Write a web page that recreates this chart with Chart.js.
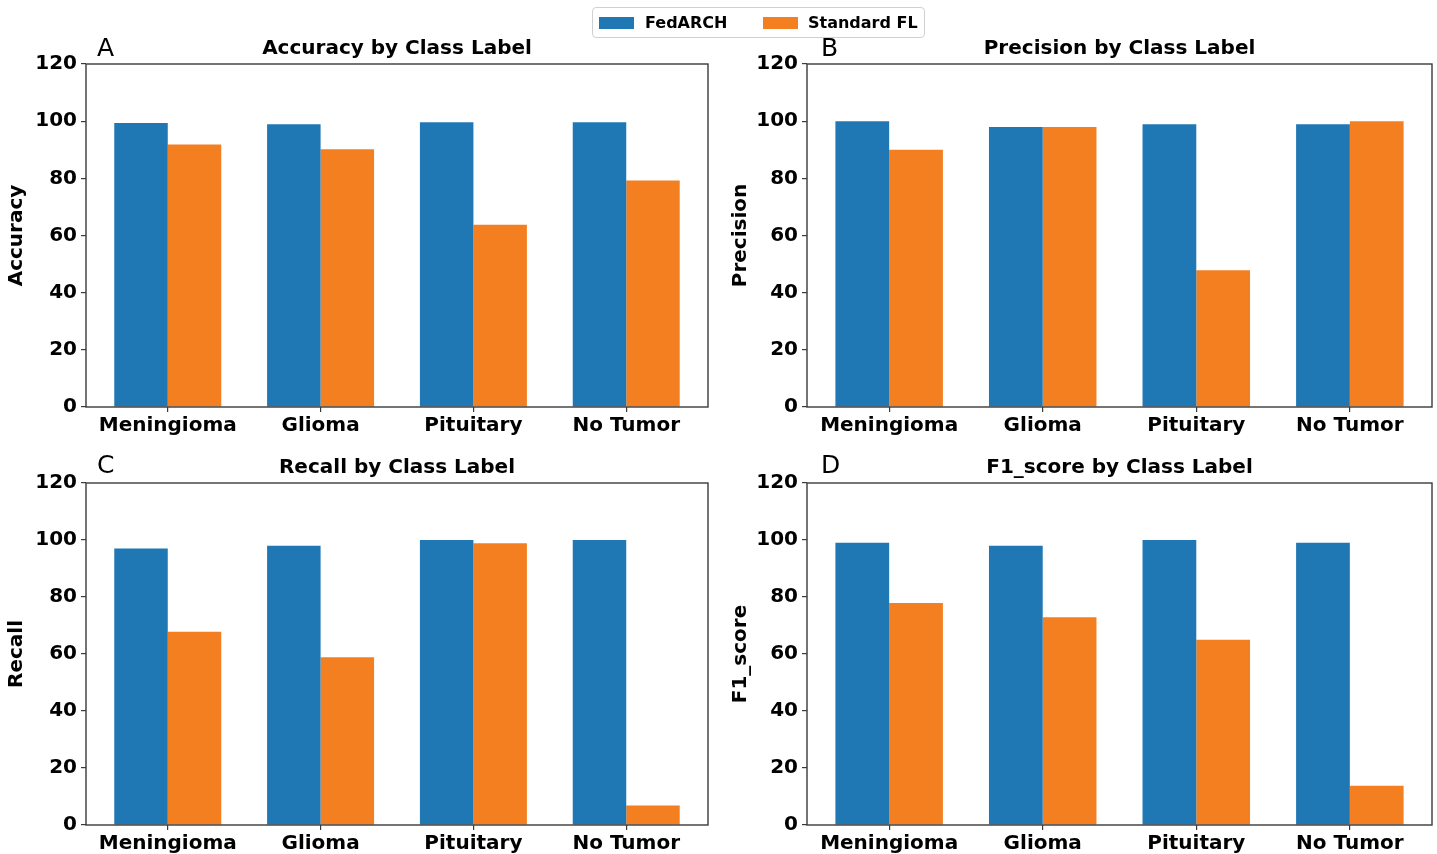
<!DOCTYPE html>
<html>
<head>
<meta charset="utf-8">
<script src="https://cdn.jsdelivr.net/npm/chart.js@4.4.1/dist/chart.umd.min.js"></script>
<style>
  html, body { margin: 0; padding: 0; background: #fff; }
  body { width: 1437px; height: 854px; position: relative; overflow: hidden; font-family: 'DejaVu Sans', sans-serif; }
  .panel { position: absolute; }
  .tag { position: absolute; font-size: 25px; line-height: 24px; color: #000; }
  #legend { position: absolute; left: 592px; top: 7px; width: 333px; height: 31px; box-sizing: border-box;
            border: 1px solid #d0d0d0; border-radius: 4px; background: #fff; }
  #legend .sw { position: absolute; top: 9px; width: 35px; height: 12px; }
  #legend .lt { position: absolute; top: 0; line-height: 29px; font-size: 16px; font-weight: bold; color: #000; white-space: nowrap; }
</style>
</head>
<body>

<div class="panel" style="left:0;top:0"><canvas id="chart-acc" width="718" height="440"></canvas></div>
<div class="panel" style="left:718px;top:0"><canvas id="chart-prec" width="719" height="440"></canvas></div>
<div class="panel" style="left:0;top:419px"><canvas id="chart-rec" width="718" height="435"></canvas></div>
<div class="panel" style="left:718px;top:419px"><canvas id="chart-f1" width="719" height="435"></canvas></div>

<div class="tag" style="left:97px;top:36px">A</div>
<div class="tag" style="left:821px;top:36px">B</div>
<div class="tag" style="left:97px;top:453px">C</div>
<div class="tag" style="left:821px;top:453px">D</div>

<div id="legend">
  <span class="sw" style="left:6px;background:#1f77b4"></span><span class="lt" style="left:52px">FedARCH</span>
  <span class="sw" style="left:170px;background:#f47f20"></span><span class="lt" style="left:215px">Standard FL</span>
</div>

<script>
// class labels and per-metric scores (%)
const classes = ['Meningioma', 'Glioma', 'Pituitary', 'No Tumor'];
const seriesNames = ['FedARCH', 'Standard FL'];
const yTicks = [0, 20, 40, 60, 80, 100, 120];

const accFedarch = [99.4, 98.9, 99.6, 99.6];
const accStandard = [91.8, 90.2, 63.8, 79.2];

const precFedarch = [100, 98.0, 98.9, 98.9];
const precStandard = [90.0, 98.0, 47.8, 100];

const recFedarch = [97.0, 98.0, 100, 100];
const recStandard = [67.8, 58.9, 98.9, 6.8];

const f1Fedarch = [99.0, 98.0, 100, 99.0];
const f1Standard = [77.9, 72.9, 65.0, 13.8];

const COLORS = { fedarch: '#1f77b4', standard: '#f47f20', axis: '#3a3a3a', text: '#000' };
const FONT = "'DejaVu Sans', sans-serif";

// bars are 0.35 wide on each side of the class index, plus a 5% margin
const BAR_HALF = 0.35;
const X_MARGIN = (classes.length - 1 + 2 * BAR_HALF) * 0.05;

Chart.defaults.font.family = FONT;
Chart.defaults.color = COLORS.text;

// box around the plot area
const framePlugin = {
  id: 'frame',
  afterDraw(chart) {
    const { ctx, chartArea: a } = chart;
    ctx.save();
    ctx.strokeStyle = COLORS.axis;
    ctx.lineWidth = 1.4;
    ctx.strokeRect(a.left, a.top, a.right - a.left, a.bottom - a.top);
    ctx.restore();
  },
};

function renderPanel(id, title, yLabel, fed, std, cfg) {
  const ctx = document.getElementById(id).getContext('2d');
  const bold20 = { family: FONT, size: 20, weight: 'bold' };
  const toPoints = arr => arr.map((v, i) => ({ x: i, y: v }));
  return new Chart(ctx, {
    type: 'bar',
    data: {
      datasets: [
        { label: seriesNames[0], data: toPoints(fed), backgroundColor: COLORS.fedarch, borderWidth: 0,
          categoryPercentage: 2 * BAR_HALF, barPercentage: 1.0 },
        { label: seriesNames[1], data: toPoints(std), backgroundColor: COLORS.standard, borderWidth: 0,
          categoryPercentage: 2 * BAR_HALF, barPercentage: 1.0 },
      ],
    },
    options: {
      responsive: false,
      animation: false,
      layout: { padding: { left: 0, right: cfg.padRight, top: 0, bottom: 0 } },
      plugins: {
        legend: { display: false },
        tooltip: { enabled: false },
        title: {
          display: true, text: title, fullSize: false, color: COLORS.text,
          font: bold20, padding: { top: 37, bottom: 3 },
        },
      },
      scales: {
        x: {
          type: 'linear',
          min: -BAR_HALF - X_MARGIN,
          max: classes.length - 1 + BAR_HALF + X_MARGIN,
          offset: false,
          afterBuildTicks: s => { s.ticks = classes.map((c, i) => ({ value: i })); },
          grid: { drawOnChartArea: false, offset: false, tickLength: 5, color: COLORS.axis, lineWidth: 1.2 },
          border: { display: false },
          ticks: { font: bold20, color: COLORS.text, padding: 2, maxRotation: 0, autoSkip: false,
                   callback: v => classes[v] },
          afterFit: s => { s.height = cfg.xHeight; },
        },
        y: {
          min: yTicks[0], max: yTicks[yTicks.length - 1],
          afterBuildTicks: s => { s.ticks = yTicks.map(v => ({ value: v })); },
          grid: { drawOnChartArea: false, tickLength: 5, color: COLORS.axis, lineWidth: 1.2 },
          border: { display: false },
          ticks: { font: bold20, color: COLORS.text, padding: 4 },
          title: { display: true, text: yLabel, font: bold20, color: COLORS.text, padding: { top: cfg.titlePad } },
          afterFit: s => { s.width = cfg.yWidth; },
        },
      },
    },
    plugins: [framePlugin],
  });
}

const left  = { yWidth: 86, padRight: 10, titlePad: 5 };
const right = { yWidth: 89, padRight: 5, titlePad: 11 };

renderPanel('chart-acc',  'Accuracy by Class Label',  'Accuracy',  accFedarch,  accStandard,  { ...left,  xHeight: 33 });
renderPanel('chart-prec', 'Precision by Class Label', 'Precision', precFedarch, precStandard, { ...right, xHeight: 33 });
renderPanel('chart-rec',  'Recall by Class Label',    'Recall',    recFedarch,  recStandard,  { ...left,  xHeight: 29 });
renderPanel('chart-f1',   'F1_score by Class Label',  'F1_score',  f1Fedarch,   f1Standard,   { ...right, xHeight: 29 });
</script>
</body>
</html>
